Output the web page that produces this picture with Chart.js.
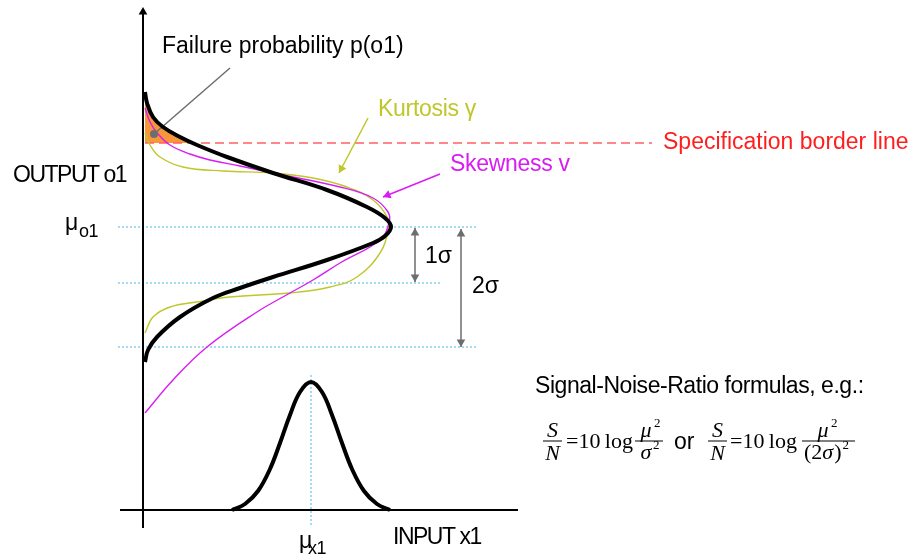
<!DOCTYPE html>
<html><head><meta charset="utf-8">
<script src="https://cdn.jsdelivr.net/npm/chart.js@4.4.0/dist/chart.umd.min.js"></script>
<style>html,body{margin:0;padding:0;background:#fff;overflow:hidden}canvas{display:block}</style>
</head><body>
<canvas id="c" width="914" height="558"></canvas>
<script>
// ---- Data (units: X = distance right of the OUTPUT axis, Y = height above the INPUT axis) ----
const outputNominal = [[2,418],[4,407],[10,393],[20,383],[37,373],[54,365],[84,353],[130,337],[184,320],[224,303],[242,292],[248,283],[242,274],[230,267],[184,250],[130,233],[97,222],[70,212],[37,193],[14,173],[5,160],[2,148]];
const outputSkewed = [[2,402],[7,388],[15,376],[27,365],[47,356],[67,350],[97,344],[130,337],[197,323],[230,312],[245,298],[246,287],[237,270],[197,247],[170,230],[147,217],[114,198],[64,163],[30,130],[2,97]];
const outputKurtosis = [[2,377],[7,365],[17,353],[40,343],[80,339],[130,337],[170,332],[204,323],[230,310],[244,293],[245,280],[237,257],[214,233],[187,223],[147,217],[87,213],[54,208],[27,203],[10,193],[2,177]];
const failureArea = [[2,418],[4,407],[10,393],[20,383],[37,373],[50,367],[2,367]];
const inputDensity = [[89,0],[102,6],[115,19],[127,41],[137,67],[147,95],[157,118],[168,128],[179,118],[189,95],[199,67],[209,41],[221,19],[234,6],[247,0]];
const specLevel = 367;
const muOutput = 283;
const oneSigmaLevel = 227;
const twoSigmaLevel = 163;
const muInput = 168;
const kurtosisArrow = [[225,392],[196,337]];
const skewnessArrow = [[297,336],[240,313]];
const failureLeader = [[87,442],[11,376]];
const labels = {
  failure: 'Failure probability p(o1)',
  spec: 'Specification border line',
  kurt: 'Kurtosis \u03b3',
  skew: 'Skewness v',
  output: 'OUTPUT o1',
  input: 'INPUT x1',
  snr: 'Signal-Noise-Ratio formulas, e.g.:',
  one: '1\u03c3', two: '2\u03c3', mu: '\u03bc', muOutSub: 'o1', muInSub: 'x1', or: 'or'
};

// ---- styles / layout ----
const BLACK = '#000000', MAG = '#d81cf2', KURT = '#bfc72a', RED = '#ff1e1e', DASHRED = '#ff6060', GUIDE = '#4ab7ea', GREY = '#6e6e6e', ORANGE = '#f7973a';
const HEAD = 5;
const datasets = [];
function line(points, color, width, opts = {}) {
  datasets.push(Object.assign({
    data: points.map(p => ({x: p[0], y: p[1]})), showLine: true, borderColor: color, borderWidth: width,
    pointRadius: 0, tension: 0, fill: false, order: 3
  }, opts));
}
function head(from, to, color, order) {
  const dx = to[0] - from[0], dy = to[1] - from[1], L = Math.hypot(dx, dy);
  const cx = to[0] - dx / L * HEAD, cy = to[1] - dy / L * HEAD;
  const rot = Math.atan2(dx, dy) * 180 / Math.PI;
  datasets.push({data: [{x: cx, y: cy}], showLine: false, pointStyle: 'triangle', pointRadius: HEAD,
    pointRotation: rot, backgroundColor: color, borderColor: color, borderWidth: 0, order: order});
}
function arrow(from, to, color, width, both) {
  line([from, to], color, width, {order: 2});
  head(from, to, color, 2);
  if (both) head(to, from, color, 2);
}
// failure area
datasets.push({data: failureArea.map(p => ({x: p[0], y: p[1]})), showLine: true, fill: 'shape',
  backgroundColor: ORANGE, borderWidth: 0, pointRadius: 0, order: 9});
// guides
const gx0 = -25;
line([[gx0, muOutput], [334, muOutput]], GUIDE, 1, {borderDash: [2, 2], order: 8});
line([[gx0, oneSigmaLevel], [297, oneSigmaLevel]], GUIDE, 1, {borderDash: [2, 2], order: 8});
line([[gx0, twoSigmaLevel], [334, twoSigmaLevel]], GUIDE, 1, {borderDash: [2, 2], order: 8});
line([[muInput, 135], [muInput, -15]], GUIDE, 1, {borderDash: [2, 2], order: 8});
// spec line
line([[2, specLevel], [509, specLevel]], DASHRED, 1.5, {borderDash: [9, 5], order: 7});
// axes
line([[0, -18], [0, 498]], BLACK, 2, {order: 6});
head([0, 480], [0, 503], BLACK, 6);
line([[-23, 0], [375, 0]], BLACK, 2, {order: 6});
// curves
line(outputKurtosis, KURT, 1.4, {tension: 0.4, order: 5});
line(outputSkewed, MAG, 1.4, {tension: 0.4, order: 4});
line(outputNominal, BLACK, 4, {tension: 0.4, order: 1});
line(inputDensity, BLACK, 4, {tension: 0.4, order: 1});
// arrows
arrow([272, muOutput - 1], [272, oneSigmaLevel + 1], GREY, 1.5, true);
arrow([318, muOutput - 2], [318, twoSigmaLevel], GREY, 1.5, true);
arrow(kurtosisArrow[0], kurtosisArrow[1], KURT, 1.5, false);
arrow(skewnessArrow[0], skewnessArrow[1], MAG, 1.5, false);
line(failureLeader, GREY, 1.5, {order: 2});
datasets.push({data: [{x: failureLeader[1][0], y: failureLeader[1][1]}], showLine: false, pointRadius: 4,
  backgroundColor: GREY, borderWidth: 0, order: 2});

const SANS = '"Liberation Sans", Arial, sans-serif';
const SERIF = '"Liberation Serif", "Times New Roman", serif';
const textPlugin = {
  id: 'diagramText',
  afterDatasetsDraw(chart) {
    const {ctx, scales: {x, y}} = chart;
    const px = X => x.getPixelForValue(X), py = Y => y.getPixelForValue(Y);
    ctx.save();
    function t(s, X, Y, font, color, base = 'middle', ls = '0px', align = 'left') {
      ctx.font = font; ctx.fillStyle = color; ctx.textBaseline = base; ctx.textAlign = align;
      ctx.letterSpacing = ls;
      ctx.fillText(s, px(X), py(Y));
    }
    t(labels.failure, 19, 463, '23px ' + SANS, BLACK, 'middle', '0px');
    t(labels.spec, 520, 367, '23px ' + SANS, RED, 'middle', '0px');
    t(labels.kurt, 235, 400, '23px ' + SANS, KURT, 'middle', '-0.3px');
    t(labels.skew, 307, 345, '23px ' + SANS, MAG, 'middle', '-0.3px');
    t(labels.output, -130, 334, '23px ' + SANS, BLACK, 'middle', '-1.5px');
    t(labels.mu, -78, 280, '23px ' + SANS, BLACK, 'alphabetic');
    t(labels.muOutSub, -64, 273, '18px ' + SANS, BLACK, 'alphabetic', '-0.5px');
    t(labels.one, 282, 253, '23px ' + SANS, BLACK, 'middle');
    t(labels.two, 329, 223, '23px ' + SANS, BLACK, 'middle');
    t(labels.snr, 392, 123, '23px ' + SANS, BLACK, 'middle', '-0.45px');
    t(labels.input, 250, -28, '23px ' + SANS, BLACK, 'middle', '-1.5px');
    t(labels.mu, 156, -38, '23px ' + SANS, BLACK, 'alphabetic');
    t(labels.muInSub, 165, -44, '18px ' + SANS, BLACK, 'alphabetic', '-0.5px');
    // formulas
    ctx.letterSpacing = '0px';
    const ax = px(397), bar = py(69);
    const it = '22px ' + SERIF, itI = 'italic 22px ' + SERIF, sup = '13px ' + SERIF;
    function draw(s, X, Y, font, align = 'left') { ctx.font = font; ctx.fillStyle = BLACK; ctx.textAlign = align; ctx.textBaseline = 'alphabetic'; ctx.fillText(s, X, Y); return X + ctx.measureText(s).width; }
    function rule(x0, x1) { ctx.fillStyle = BLACK; ctx.fillRect(x0, bar - 0.5, x1 - x0, 1); }
    // S/N = 10 log mu^2/sigma^2
    rule(ax + 3, ax + 22); draw('S', ax + 12.5, bar - 4, itI, 'center'); draw('N', ax + 12.5, bar + 19, itI, 'center');
    draw('=10\u2009log', ax + 26, bar + 7, it);
    rule(ax + 95, ax + 123);
    draw('\u03bc', ax + 106, bar - 4, itI, 'center'); draw('2', ax + 114, bar - 14, sup);
    draw('\u03c3', ax + 106, bar + 18, itI, 'center'); draw('2', ax + 113, bar + 8, sup);
    draw(labels.or, ax + 134, bar + 8, '23px ' + SANS);
    rule(ax + 168, ax + 187); draw('S', ax + 177.5, bar - 4, itI, 'center'); draw('N', ax + 177.5, bar + 19, itI, 'center');
    draw('=10\u2009log', ax + 190, bar + 7, it);
    rule(ax + 262, ax + 315);
    draw('\u03bc', ax + 283, bar - 4, itI, 'center'); draw('2', ax + 291, bar - 14, sup);
    let cx = draw('(2', ax + 264, bar + 18, it);
    cx = draw('\u03c3', cx, bar + 18, itI);
    cx = draw(')', cx + 1, bar + 18, it);
    draw('2', cx + 1, bar + 8, sup);
    ctx.restore();
  }
};

new Chart(document.getElementById('c'), {
  type: 'scatter',
  data: {datasets},
  options: {
    responsive: false, animation: false, devicePixelRatio: 1, events: [],
    layout: {padding: 0, autoPadding: false},
    scales: {
      x: {type: 'linear', min: -143, max: 771, display: false},
      y: {type: 'linear', min: -48, max: 510, display: false}
    },
    plugins: {legend: {display: false}, tooltip: {enabled: false}, title: {display: false}}
  },
  plugins: [textPlugin]
});
</script>
</body></html>
